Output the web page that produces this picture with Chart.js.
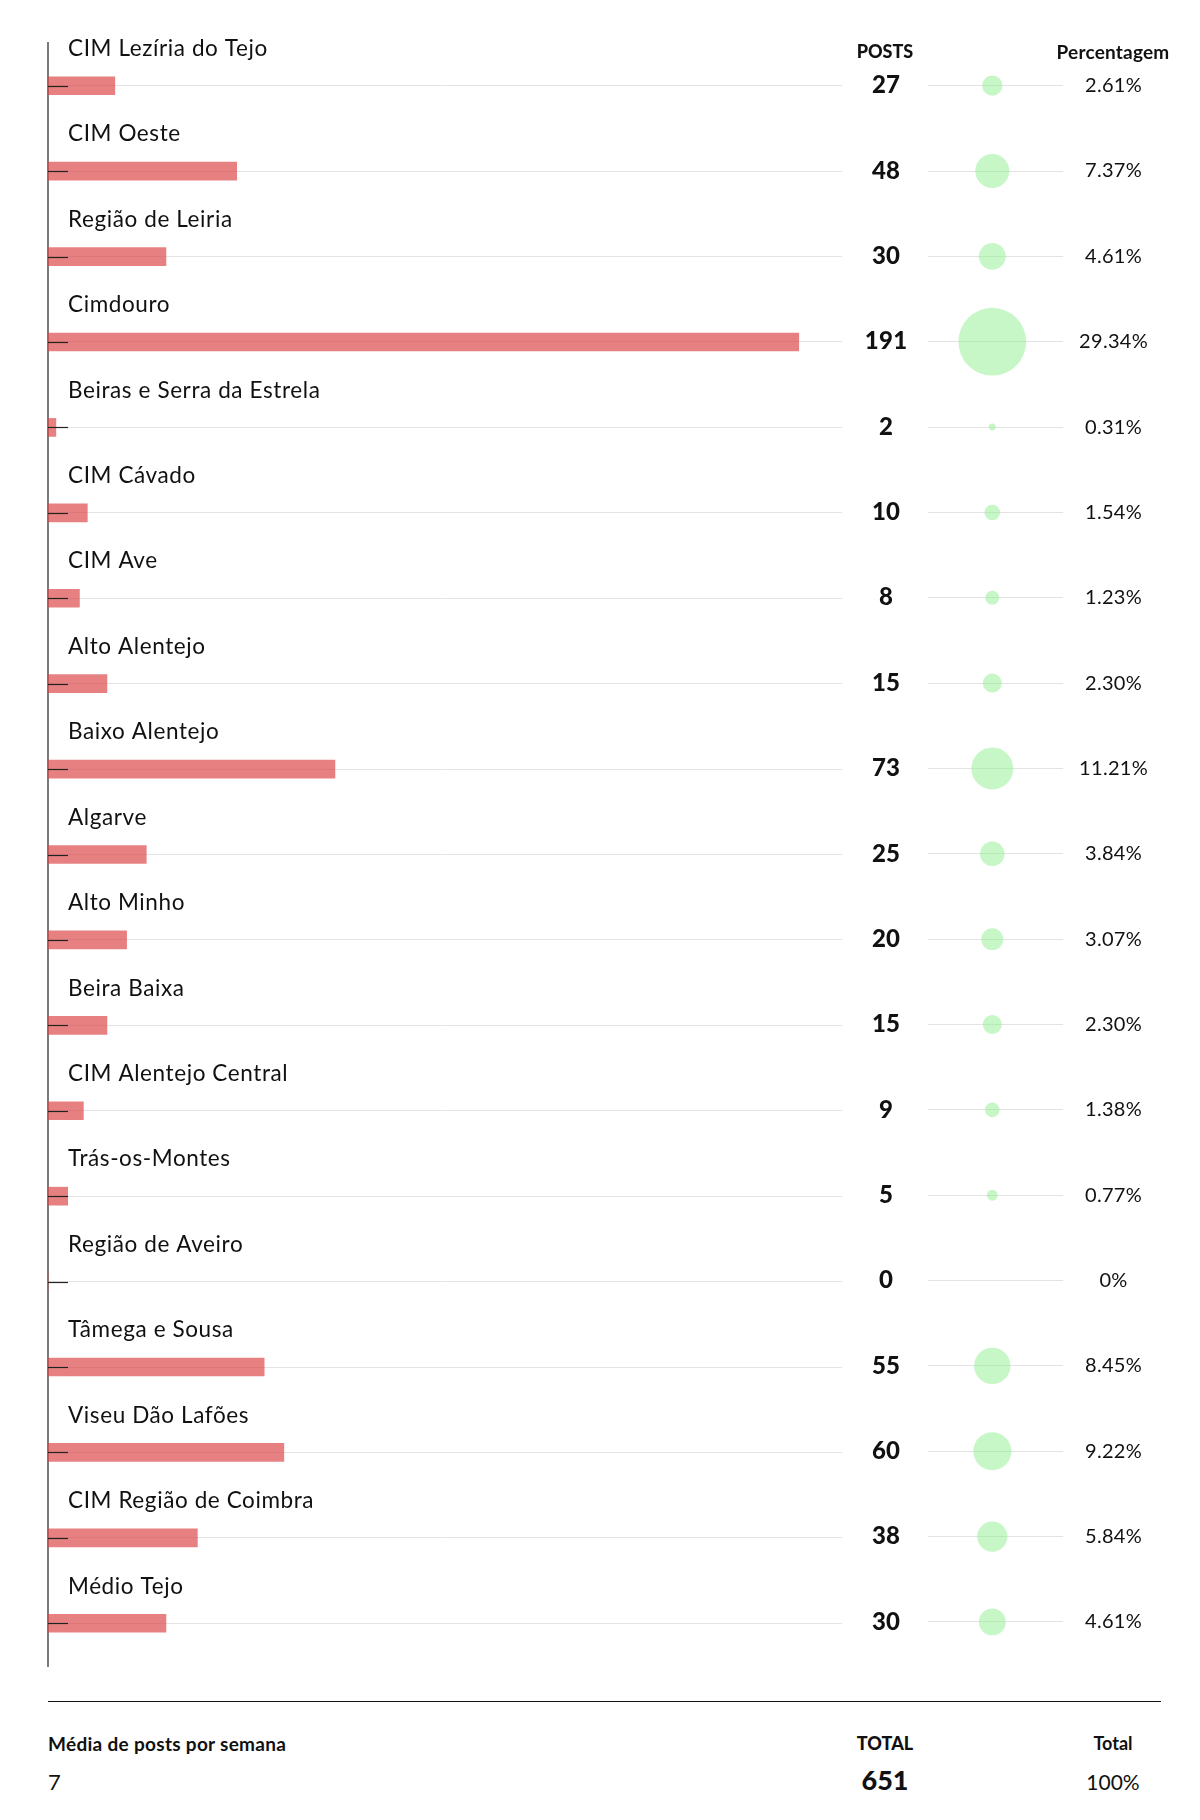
<!DOCTYPE html>
<html>
<head>
<meta charset="utf-8">
<script src="https://cdn.jsdelivr.net/npm/chart.js@4.4.1/dist/chart.umd.min.js"></script>
<style>
  body { margin: 0; background: #fff; font-family: Lato, "Open Sans", sans-serif; color: #111; }
  #page { position: relative; width: 1200px; height: 1820px; overflow: hidden; }
  canvas { position: absolute; top: 0; }
  .txt { position: absolute; line-height: 1; white-space: nowrap; }
  .c { transform: translate(-50%, -50%); }
  .l { transform: translate(0, -50%); }
</style>
</head>
<body>
<div id="page">
  <canvas id="bars" width="842" height="1700" style="left:0"></canvas>
  <canvas id="dots" width="321" height="1700" style="left:842px"></canvas>

  <div class="txt c" style="left:885px; top:51px; font-size:18px; font-weight:900;">POSTS</div>
  <div class="txt c" style="left:1113px; top:51px; font-size:19px; font-weight:700; letter-spacing:0.2px;">Percentagem</div>

  <div style="position:absolute; left:48px; top:1701px; width:1113px; border-top:1.5px solid #111;"></div>
  <div class="txt l" style="left:48px; top:1743px; font-size:19px; font-weight:700; letter-spacing:0.3px;">Média de posts por semana</div>
  <div class="txt l" id="avg" style="left:48px; top:1782px; font-size:22px;"></div>
  <div class="txt c" style="left:885px; top:1743px; font-size:18px; font-weight:900;">TOTAL</div>
  <div class="txt c" id="total" style="left:885px; top:1779px; font-size:27px; font-weight:900;"></div>
  <div class="txt c" style="left:1113px; top:1743px; font-size:18px; font-weight:700;">Total</div>
  <div class="txt c" id="totalPct" style="left:1113px; top:1781px; font-size:21px;"></div>
</div>
<script>
const categories = [
  "CIM Lezíria do Tejo", "CIM Oeste", "Região de Leiria", "Cimdouro",
  "Beiras e Serra da Estrela", "CIM Cávado", "CIM Ave", "Alto Alentejo",
  "Baixo Alentejo", "Algarve", "Alto Minho", "Beira Baixa",
  "CIM Alentejo Central", "Trás-os-Montes", "Região de Aveiro",
  "Tâmega e Sousa", "Viseu Dão Lafões", "CIM Região de Coimbra", "Médio Tejo"
];
// bar lengths as drawn (first bar is drawn at 17 although its label reads 27)
const barValues = [17, 48, 30, 191, 2, 10, 8, 15, 73, 25, 20, 15, 9, 5, 0, 55, 60, 38, 30];
const postLabels = ["27", "48", "30", "191", "2", "10", "8", "15", "73", "25", "20", "15", "9", "5", "0", "55", "60", "38", "30"];
const percentLabels = ["2.61%", "7.37%", "4.61%", "29.34%", "0.31%", "1.54%", "1.23%", "2.30%", "11.21%", "3.84%",
  "3.07%", "2.30%", "1.38%", "0.77%", "0%", "8.45%", "9.22%", "5.84%", "4.61%"];
const weeklyAverage = "7";
const totalPosts = "651";
const totalPercent = "100%";

document.getElementById("avg").textContent = weeklyAverage;
document.getElementById("total").textContent = totalPosts;
document.getElementById("totalPct").textContent = totalPercent;

const pad = { top: 43, bottom: 34 };
const gridColor = "#e3e3e3";

// a bit of tracking so Lato gets closer to the wide original face
const spacing = (px) => ({
  id: "spacing",
  beforeDraw(chart) { chart.ctx.letterSpacing = px; }
});

// short dark ticks just right of the axis line
const tickMarks = {
  id: "tickMarks",
  afterDatasetsDraw(chart) {
    const ctx = chart.ctx;
    const y = chart.scales.y;
    const left = chart.chartArea.left;
    ctx.save();
    ctx.strokeStyle = "#222";
    ctx.lineWidth = 1.2;
    y.ticks.forEach((t, i) => {
      const py = Math.round(y.getPixelForTick(i)) + 0.5;
      ctx.beginPath();
      ctx.moveTo(left, py);
      ctx.lineTo(left + 20, py);
      ctx.stroke();
    });
    ctx.restore();
  }
};

new Chart(document.getElementById("bars"), {
  type: "bar",
  data: {
    labels: categories,
    datasets: [{
      data: barValues,
      backgroundColor: "rgba(220, 70, 70, 0.68)",
      borderWidth: 0,
      barThickness: 18
    }]
  },
  options: {
    indexAxis: "y",
    responsive: false,
    animation: false,
    events: [],
    layout: { padding: { left: 48, right: 0, top: pad.top, bottom: pad.bottom } },
    plugins: { legend: { display: false }, tooltip: { enabled: false } },
    scales: {
      x: { display: false, min: 0, max: 202 },
      y: {
        offset: true,
        grid: { offset: false, color: gridColor, drawTicks: false },
        border: { display: true, color: "#7a7a7a", width: 2 },
        ticks: {
          mirror: true,
          padding: 20,
          labelOffset: -37,
          autoSkip: false,
          color: "#111",
          font: { family: "Lato", size: 22.5 }
        },
        afterFit: (s) => { s.width = 0; }
      }
    }
  },
  plugins: [spacing("0.6px"), tickMarks]
});

new Chart(document.getElementById("dots"), {
  type: "bubble",
  data: {
    datasets: [{
      data: categories.map((c, i) => ({ x: 0, y: c, r: 2.45 * Math.sqrt(barValues[i]) })),
      backgroundColor: "rgba(144, 238, 144, 0.5)",
      borderWidth: 0
    }]
  },
  options: {
    responsive: false,
    animation: false,
    events: [],
    layout: { padding: { left: 0, right: 0, top: pad.top, bottom: pad.bottom } },
    plugins: { legend: { display: false }, tooltip: { enabled: false } },
    scales: {
      x: { display: false, min: -1, max: 1.1 },
      y: {
        type: "category",
        labels: categories,
        position: "left",
        offset: true,
        grid: { offset: false, color: gridColor, drawTicks: false },
        border: { display: false },
        ticks: {
          autoSkip: false,
          crossAlign: "center",
          padding: 21,
          color: "#111",
          font: { family: "Lato", size: 24, weight: 900 },
          callback: (v, i) => postLabels[i]
        },
        afterFit: (s) => { s.width = 86; }
      },
      y2: {
        type: "category",
        labels: categories,
        position: "right",
        offset: true,
        grid: { display: false, drawTicks: false },
        border: { display: false },
        ticks: {
          autoSkip: false,
          crossAlign: "center",
          padding: 17,
          color: "#111",
          font: { family: "Lato", size: 20 },
          callback: (v, i) => percentLabels[i]
        },
        afterFit: (s) => { s.width = 100; }
      }
    }
  },
  plugins: [spacing("0.3px")]
});
</script>
</body>
</html>
